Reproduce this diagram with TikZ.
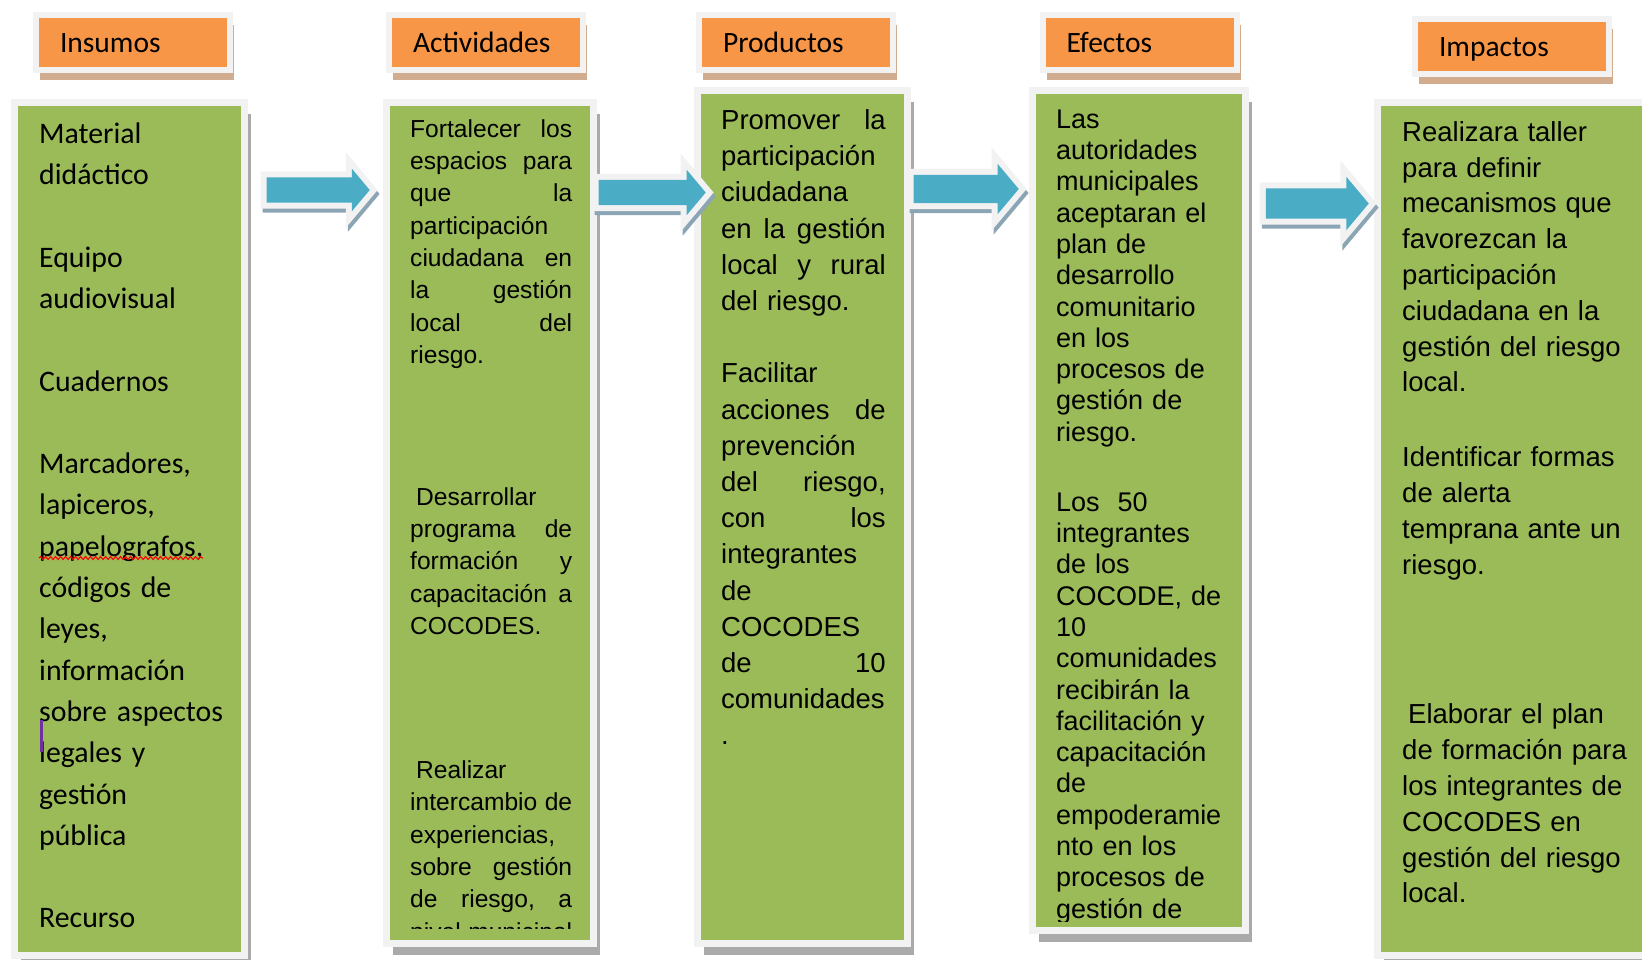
\documentclass[tikz,border=0pt]{standalone}
\usepackage{fontspec}
\setmainfont{Liberation Sans}
\newfontfamily\calibrifont{Carlito}
\usetikzlibrary{shapes.arrows, shadows, decorations.pathmorphing}
\setlength{\parindent}{0pt}

\definecolor{headorange}{HTML}{F79646}
\definecolor{panelgreen}{HTML}{9BBB59}
\definecolor{arrowblue}{HTML}{4BACC6}
\definecolor{framegray}{HTML}{F2F2F2}
\definecolor{panelshadow}{RGB}{170,170,170}
\definecolor{headshadow}{RGB}{210,172,142}
\definecolor{arrowshade}{RGB}{140,165,180}
\definecolor{cursorpurple}{HTML}{7030A0}

\begin{document}
\begin{tikzpicture}[x=1pt, y=-1pt,
   head_style/.style={fill=headorange, draw=framegray, line width=6pt,
      minimum width=194pt, minimum height=55pt, inner xsep=24pt, inner ysep=0pt,
      text width=146pt, align=left, text height=23pt, text depth=3pt,
      font=\calibrifont\fontsize{29.5}{35}\selectfont,
      general shadow={fill=headshadow, shadow xshift=4pt, shadow yshift=-10pt}},
   panel_style/.style={fill=panelgreen, draw=framegray, line width=7pt, inner sep=0pt,
      general shadow={fill=panelshadow, shadow xshift=6pt, shadow yshift=-11pt}},
   text_style/.style={anchor=north west, inner sep=0pt, align=left, text width=#1},
   arrow_style/.style={single arrow, fill=arrowblue, inner xsep=0pt, inner ysep=12.5pt, anchor=tip,
      minimum height=104pt, single arrow head extend=10pt,
      single arrow tip angle=100, line join=miter,
      preaction={draw=arrowshade, line width=12pt, line join=miter,
         transform canvas={xshift=2pt, yshift=-4pt}},
      preaction={draw=framegray, line width=12pt, line join=miter}}]

    \useasboundingbox (0,0) rectangle (1642,959);
    \clip (0,0) rectangle (1642,959);

    \node[head_style] (insumos_head) at (133,42.5) {Insumos};
    \node[head_style] (actividades_head) at (486,42.5) {Actividades};
    \node[head_style] (productos_head) at (796,42.5) {Productos};
    \node[head_style] (efectos_head) at (1139.5,42.5) {Efectos};
    \node[head_style] (impactos_head) at (1512,46.5) {Impactos};

    \node[panel_style, minimum width=230pt, minimum height=853pt] (insumos_box) at (129.5,529) {};
    \node[panel_style, minimum width=207pt, minimum height=841pt] (actividades_box) at (490,523) {};
    \node[panel_style, minimum width=210pt, minimum height=853pt] (productos_box) at (802.5,517) {};
    \node[panel_style, minimum width=213pt, minimum height=840pt] (efectos_box) at (1139,510.5) {};
    \node[panel_style, minimum width=306pt, minimum height=853pt] (impactos_box) at (1530.5,529) {};

    \node[arrow_style, minimum height=103pt, single arrow head extend=8.5pt] (arrow_a) at (370,190) {};
    \node[arrow_style, minimum height=107pt, single arrow head extend=10pt] (arrow_b) at (706,192.5) {};
    \node[arrow_style, minimum height=105pt, inner ysep=14pt, single arrow head extend=11pt] (arrow_c) at (1019,189) {};
    \node[arrow_style, minimum height=103pt, inner ysep=15pt, single arrow head extend=11.5pt] (arrow_d) at (1369,203.5) {};

    \node[text_style=200pt, font=\calibrifont\fontsize{29.8}{41.3}\selectfont] (insumos_text) at (39,114.1)
       {\rule{0pt}{28.9pt}Material\\didáctico\\[41.3pt]Equipo\\audiovisual\\[41.3pt]Cuadernos\\[41.3pt]Marcadores,\\lapiceros,\\papelografos,\\códigos de\\leyes,\\información\\sobre aspectos\\legales y\\gestión\\pública\\[41.3pt]Recurso};

    \begin{scope}
      \clip (390,106) rectangle (590,928);
      \node[text_style=162pt, font=\fontsize{24.6}{32.3}\selectfont] (actividades_text) at (410,114.4)
         {\rule{0pt}{22.6pt}Fortalecer\hfill los\\espacios\hfill para\\que\hfill la\\participación\\ciudadana\hfill en\\la\hfill gestión\\local\hfill del\\riesgo.\\[109.7pt]
          \hspace*{6pt}Desarrollar\\programa\hfill de\\formación\hfill y\\capacitación\hfill a\\COCODES.\\[111.7pt]
          \hspace*{6pt}Realizar\\intercambio\hfill de\\experiencias,\\sobre\hfill gestión\\de\hfill riesgo,\hfill a\\nivel\hfill municipal};
    \end{scope}

    \node[text_style=164.5pt, font=\fontsize{27.5}{36.2}\selectfont] (productos_text) at (721,104)
       {\rule{0pt}{25.3pt}Promover\hfill la\\participación\\ciudadana\\en\hfill la\hfill gestión\\local\hfill y\hfill rural\\del riesgo.\\[36.2pt]
        Facilitar\\acciones\hfill de\\prevención\\del\hfill riesgo,\\con\hfill los\\integrantes\\de\\COCODES\\de\hfill 10\\comunidades\\.};

    \begin{scope}
      \clip (1036,94) rectangle (1242,921);
      \node[text_style=180pt, font=\fontsize{27}{31.3}\selectfont] (efectos_text) at (1056,106.1)
         {\rule{0pt}{21.9pt}Las\\autoridades\\municipales\\aceptaran el\\plan de\\desarrollo\\comunitario\\en los\\procesos de\\gestión de\\riesgo.\\[38.7pt]
          Los\ \ 50\\integrantes\\de los\\COCODE, de\\10\\comunidades\\recibirán la\\facilitación y\\capacitación\\de\\empoderamie\\nto en los\\procesos de\\gestión de};
    \end{scope}

    \node[text_style=230pt, font=\fontsize{27.5}{35.8}\selectfont] (impactos_text) at (1402,115.9)
       {\rule{0pt}{25.1pt}Realizara taller\\para definir\\mecanismos que\\favorezcan la\\participación\\ciudadana en la\\gestión del riesgo\\local.\\[39pt]
        Identificar formas\\de alerta\\temprana ante un\\riesgo.\\[114pt]
        \hspace*{6pt}Elaborar el plan\\de formación para\\los integrantes de\\COCODES en\\gestión del riesgo\\local.};

    \draw[red, line width=1.1pt, decorate, decoration={snake, amplitude=1.5pt, segment length=5pt}] (39,558) -- (203,558);
    \draw[cursorpurple, line width=2.2pt] (41.5,720) -- (41.5,752);
\end{tikzpicture}
\end{document}
